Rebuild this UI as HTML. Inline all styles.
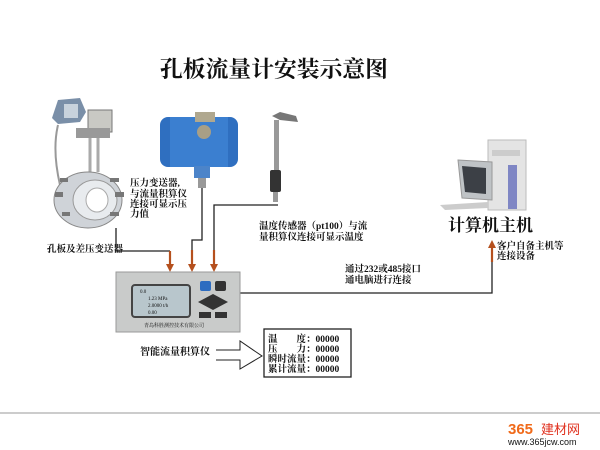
<!DOCTYPE html>
<html><head><meta charset="utf-8"><style>
body{margin:0;background:#fff;width:600px;height:450px;overflow:hidden}
svg{display:block}
text{font-family:"Liberation Serif","Noto Serif CJK SC","Noto Sans CJK SC",serif;fill:#111}
</style></head><body>
<svg width="600" height="450" viewBox="0 0 600 450">
<defs>
<marker id="a" markerWidth="8" markerHeight="8" refX="4" refY="4" orient="auto" markerUnits="userSpaceOnUse"><path d="M0,0 L8,4 L0,8 z" fill="#b5501e"/></marker>
</defs>
<text x="160" y="77" font-size="22.5" font-weight="bold" textLength="228" lengthAdjust="spacingAndGlyphs">孔板流量计安装示意图</text>

<!-- orifice device -->
<g>
<path d="M52 118 L58 100 L80 98 L86 112 L80 122 L58 124 Z" fill="#7a8fa8"/>
<rect x="64" y="104" width="14" height="14" fill="#c8d2dc"/>
<rect x="88" y="110" width="24" height="22" fill="#c9c9c4" stroke="#777"/>
<rect x="76" y="128" width="34" height="10" fill="#999"/>
<line x1="90" y1="138" x2="90" y2="172" stroke="#aaa" stroke-width="3"/>
<line x1="98" y1="138" x2="98" y2="172" stroke="#aaa" stroke-width="3"/>
<path d="M58 125 Q52 150 60 185" stroke="#999" stroke-width="2" fill="none"/>
<ellipse cx="88" cy="200" rx="34" ry="28" fill="#cfd3d8" stroke="#888"/>
<ellipse cx="95" cy="200" rx="22" ry="20" fill="#e8ebee" stroke="#999"/>
<ellipse cx="97" cy="200" rx="11" ry="12" fill="#fff" stroke="#aaa"/>
<g fill="#777"><rect x="55" y="192" width="8" height="5"/><rect x="115" y="192" width="9" height="5"/><rect x="60" y="178" width="8" height="4"/><rect x="110" y="178" width="9" height="4"/><rect x="62" y="212" width="8" height="4"/><rect x="110" y="212" width="9" height="4"/></g>
</g>
<!-- blue transmitter -->
<g>
<rect x="160" y="117" width="78" height="50" rx="8" fill="#2f6fc0"/>
<rect x="170" y="117" width="58" height="50" fill="#3b7fd0"/>
<rect x="195" y="112" width="20" height="10" fill="#b0a88f"/>
<circle cx="204" cy="132" r="7" fill="#a89f86"/>
<rect x="194" y="166" width="16" height="12" fill="#4c84c9"/>
<rect x="198" y="178" width="8" height="10" fill="#999"/>
</g>
<!-- temp sensor -->
<g>
<path d="M272 116 L280 112 L296 116 L298 122 L280 120 Z" fill="#777"/>
<rect x="274" y="120" width="5" height="50" fill="#999"/>
<rect x="270" y="170" width="11" height="22" rx="2" fill="#333"/>
<rect x="273" y="192" width="5" height="10" fill="#999"/>
</g>

<g font-size="9.5" font-weight="bold">
<text x="130" y="186">压力变送器,</text>
<text x="130" y="197">与流量积算仪</text>
<text x="130" y="207">连接可显示压</text>
<text x="130" y="217">力值</text>
<text x="47" y="252">孔板及差压变送器</text>
<text x="259" y="229">温度传感器（pt100）与流</text>
<text x="259" y="240">量积算仪连接可显示温度</text>
<text x="345" y="272">通过232或485接口</text>
<text x="345" y="283">通电脑进行连接</text>
<text x="497" y="249">客户自备主机等</text>
<text x="497" y="259">连接设备</text>
<text x="140" y="355" font-size="10">智能流量积算仪</text>
</g>

<!-- connectors -->
<g stroke="#222" stroke-width="1.3" fill="none">
<polyline points="116,228 116,251 170,251"/>
<polyline points="202,188 202,240 192,240 192,252"/>
<polyline points="278,205 214,205 214,250"/>
<polyline points="240,293 492,293 492,262"/>
</g>
<g stroke="#b5501e" stroke-width="2.2">
<line x1="170" y1="251" x2="170" y2="268" marker-end="url(#a)"/>
<line x1="192" y1="250" x2="192" y2="268" marker-end="url(#a)"/>
<line x1="214" y1="250" x2="214" y2="268" marker-end="url(#a)"/>
<line x1="492" y1="262" x2="492" y2="244" marker-end="url(#a)"/>
</g>

<!-- instrument -->
<rect x="116" y="272" width="124" height="60" fill="#c9cbca" stroke="#999"/>
<rect x="132" y="285" width="58" height="32" rx="3" fill="#b8c6cc" stroke="#444" stroke-width="2"/>
<g font-size="5" font-family="Liberation Sans"><text x="140" y="293">0.0</text><text x="148" y="300">1.23 MPa</text><text x="148" y="307">2.0000 t/h</text><text x="148" y="314">0.00</text></g>
<text x="144" y="327" font-size="5" font-family="Liberation Sans,Noto Sans CJK SC,sans-serif">青岛科胜测控技术有限公司</text>
<rect x="200" y="281" width="11" height="10" rx="2" fill="#2d6cc0"/>
<rect x="215" y="281" width="11" height="10" rx="2" fill="#333"/>
<path d="M213 294 L228 302 L213 310 L198 302 Z" fill="#333"/>
<rect x="199" y="312" width="12" height="6" fill="#333"/><rect x="215" y="312" width="12" height="6" fill="#333"/>

<!-- hollow arrow -->
<path d="M216 350 L240 350 L240 341 L262 356 L240 369 L240 360 L216 360" fill="#fff" stroke="#222" stroke-width="1"/>
<rect x="264" y="329" width="87" height="48" fill="#fff" stroke="#222" stroke-width="1.3"/>
<g font-size="9.5" font-weight="bold">
<text x="268" y="342">温　　度：00000</text>
<text x="268" y="352">压　　力：00000</text>
<text x="268" y="362">瞬时流量：00000</text>
<text x="268" y="372">累计流量：00000</text>
</g>

<!-- computer -->
<g>
<rect x="488" y="140" width="38" height="70" fill="#e4e4e4" stroke="#bbb"/>
<rect x="508" y="165" width="9" height="44" fill="#7f86c4"/>
<rect x="492" y="150" width="28" height="6" fill="#ccc"/>
<path d="M458 160 L492 162 L492 200 L462 198 Z" fill="#bfc3c6" stroke="#999"/>
<path d="M462 166 L486 168 L486 194 L465 192 Z" fill="#3c4046"/>
<path d="M440 205 L488 202 L488 208 L445 210 Z" fill="#ccc"/>
</g>
<text x="448" y="231" font-size="17" font-weight="bold">计算机主机</text>

<line x1="0" y1="413" x2="600" y2="413" stroke="#ccc" stroke-width="2"/>
<text x="508" y="434" font-size="15" font-weight="bold" style="fill:#f06a1a;font-family:'Liberation Sans',sans-serif">365</text>
<text x="541" y="434" font-size="13" style="fill:#e0301e;font-family:'Noto Sans CJK SC',sans-serif">建材网</text>
<text x="508" y="445" font-size="9" style="font-family:'Liberation Sans',sans-serif">www.365jcw.com</text>
</svg>
</body></html>
